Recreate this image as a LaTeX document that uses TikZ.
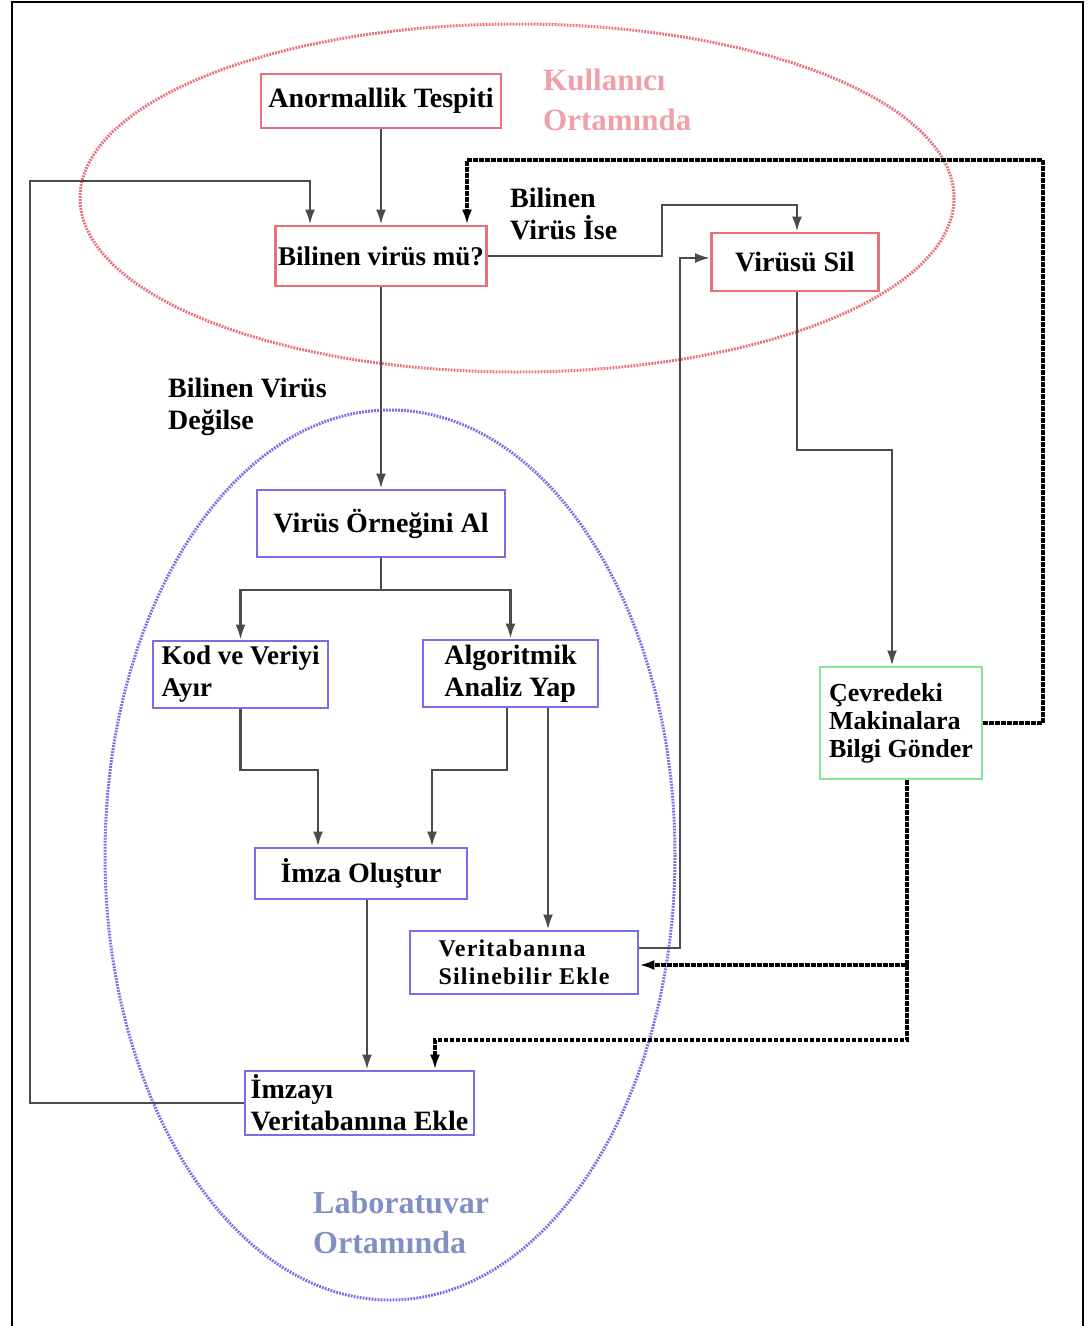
\documentclass[tikz,border=0pt]{standalone}
\usepackage{fontspec}
\setmainfont{Liberation Serif}
\usetikzlibrary{arrows.meta}

\definecolor{userred}{RGB}{232,112,122}
\definecolor{labblue}{RGB}{118,112,232}
\definecolor{netgreen}{RGB}{130,232,150}
\definecolor{userpink}{RGB}{240,160,168}
\definecolor{labgray}{RGB}{128,144,196}
\definecolor{linegray}{RGB}{75,75,75}

\begin{document}
\begin{tikzpicture}[x=1pt,y=-1pt,
	box/.style={draw,line width=2.8pt,fill=white,inner sep=3pt,align=left,
		font=\fontsize{28}{32}\selectfont\bfseries},
	userbox/.style={box,draw=userred},
	labbox/.style={box,draw=labblue},
	netbox/.style={box,draw=netgreen},
	tag/.style={inner sep=0pt,anchor=north west,align=left},
	flow/.style={draw=linegray,line width=2.5pt,-{Latex[length=15pt,width=10pt]}},
	notify/.style={draw=black,line width=3.4pt,dash pattern=on 4.5pt off 1.5pt,-{Latex[length=15pt,width=10pt]}},
	zone/.style={line width=3pt,dash pattern=on 1.8pt off 1.2pt}]
	\useasboundingbox (0,0) rectangle (1088,1326);
	\draw[line width=1.5pt] (12,1326) -- (12,2) -- (1083,2) -- (1083,1326);

	% Define zones
	\draw[zone,userred] (517,198) ellipse [x radius=437, y radius=174];
	\draw[zone,labblue] (390,855) ellipse [x radius=285, y radius=445];
	\node[tag,text=userpink,font=\fontsize{31}{40}\selectfont\bfseries] (userlbl) at (543,69) {Kullanıcı\\Ortamında};
	\node[tag,text=labgray,font=\fontsize{32}{40}\selectfont\bfseries] (lablbl) at (313,1191) {Laboratuvar\\Ortamında};

	% Define nodes
	\node[userbox,minimum width=240pt,minimum height=54pt] (anorm) at (381,101) {Anormallik Tespiti};
	\node[userbox,minimum width=208pt,minimum height=60pt,font=\fontsize{27}{32}\selectfont\bfseries] (bilinen) at (381,256) {Bilinen virüs mü?};
	\node[userbox,minimum width=167pt,minimum height=58pt] (sil) at (795,262) {Virüsü Sil};
	\node[labbox,minimum width=248pt,minimum height=67pt] (ornek) at (381,523.5) {Virüs Örneğini Al};
	\node[labbox,minimum width=175pt,minimum height=67pt,font=\fontsize{27}{32}\selectfont\bfseries] (kod) at (240.5,674.5) {Kod ve Veriyi\\Ayır};
	\node[labbox,minimum width=175pt,minimum height=67pt] (algo) at (510.5,673.5) {Algoritmik\\Analiz Yap};
	\node[labbox,minimum width=212pt,minimum height=51pt] (imza) at (361,873.5) {İmza Oluştur};
	\node[labbox,minimum width=228pt,minimum height=63pt,font=\fontsize{24}{28}\selectfont\bfseries\addfontfeature{LetterSpace=5}] (silinebilir) at (524,962.5) {Veritabanına\\Silinebilir Ekle};
	\node[labbox,minimum width=229pt,minimum height=64pt] (imzayi) at (359.5,1103) {İmzayı\\Veritabanına Ekle};
	\node[netbox,minimum width=162pt,minimum height=112pt,font=\fontsize{26}{28}\selectfont\bfseries] (cevre) at (901,723) {Çevredeki\\Makinalara\\Bilgi Gönder};

	\node[tag,font=\fontsize{28}{32}\selectfont\bfseries] (iselbl) at (510,188) {Bilinen\\Virüs İse};
	\node[tag,font=\fontsize{28}{32}\selectfont\bfseries] (degillbl) at (168,378) {Bilinen Virüs\\Değilse};

	% Connect the nodes
	\draw[flow] (anorm) -- (bilinen);
	\draw[flow] (imzayi.west) -| (30,181) -| ([xshift=-71pt]bilinen.north);
	\draw[flow] (bilinen) -- (ornek);
	\draw[flow] (bilinen.east) -| (662,205) -| ([xshift=2pt]sil.north);
	\draw[flow] ([xshift=2pt]sil.south) |- (892,450) -- ([xshift=-9pt]cevre.north);
	\draw[flow] (ornek.south) -- (381,590) -| (kod.north);
	\draw[flow] (381,590) -| (algo.north);
	\draw[flow] (kod.south) |- (318,770) -- ([xshift=-43pt]imza.north);
	\draw[flow] ([xshift=-3.5pt]algo.south) |- (432,770) -- ([xshift=71pt]imza.north);
	\draw[flow] ([xshift=37.5pt]algo.south) -- ([xshift=24pt]silinebilir.north);
	\draw[flow] ([xshift=6pt]imza.south) -- ([xshift=7.5pt]imzayi.north);
	\draw[flow] ([yshift=14.5pt]silinebilir.east) -| (680,258) -- ([yshift=4pt]sil.west);

	\coordinate (split) at (907,965);
	\draw[notify] (cevre.east) -| (1043,160) -| ([xshift=86pt]bilinen.north);
	\draw[notify] ([xshift=6pt]cevre.south) |- ([yshift=-2.5pt]silinebilir.east);
	\draw[notify] (split) |- (435,1040) -- ([xshift=75.5pt]imzayi.north);
\end{tikzpicture}
\end{document}
